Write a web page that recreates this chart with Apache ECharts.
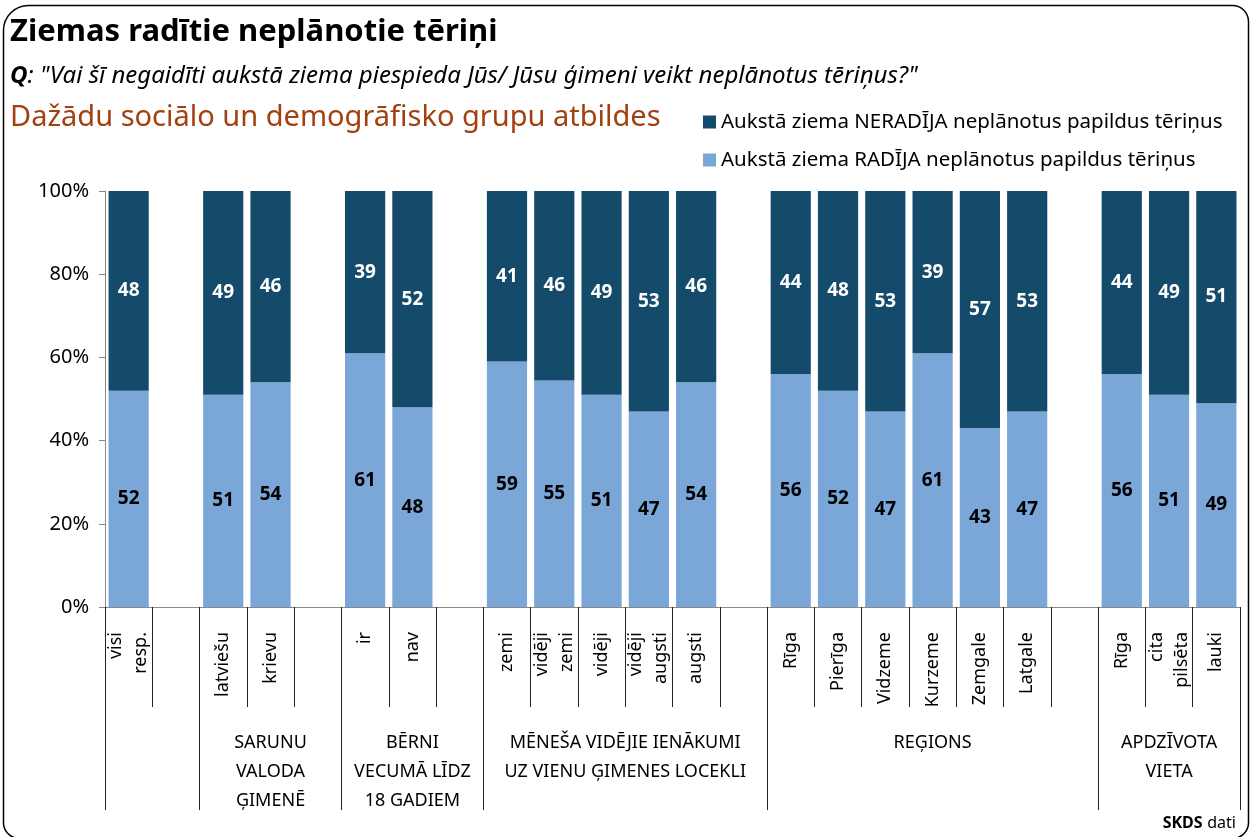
<!DOCTYPE html>
<html>
<head>
<meta charset="utf-8">
<style>
  html, body { margin: 0; padding: 0; background: #fff; }
  #main { width: 1250px; height: 837px; }
</style>
<script src="https://cdn.jsdelivr.net/npm/echarts@6/dist/echarts.min.js"></script>
</head>
<body>
<div id="main"></div>
<script>
// kategorijas (tukšās vietas = atstarpes starp grupām)
const categories = [
  'visi\nresp.', '',
  'latviešu', 'krievu', '',
  'ir', 'nav', '',
  'zemi', 'vidēji\nzemi', 'vidēji', 'vidēji\naugsti', 'augsti', '',
  'Rīga', 'Pierīga', 'Vidzeme', 'Kurzeme', 'Zemgale', 'Latgale', '',
  'Rīga', 'cita\npilsēta', 'lauki'
];
// Aukstā ziema RADĪJA neplānotus papildus tēriņus
const radija = [52, null, 51, 54, null, 61, 48, null, 59, 55, 51, 47, 54, null,
  56, 52, 47, 61, 43, 47, null, 56, 51, 49];
// Aukstā ziema NERADĪJA neplānotus papildus tēriņus
const neradija = [48, null, 49, 46, null, 39, 52, null, 41, 46, 49, 53, 46, null,
  44, 48, 53, 39, 57, 53, null, 44, 49, 51];
// grupas: sākuma indekss, garums, nosaukums
const groupStarts = [0, 2, 5, 8, 14, 21];
const groupSizes = [2, 3, 3, 6, 7, 3];
const groupNames = ['', 'SARUNU\nVALODA\nĢIMENĒ', 'BĒRNI\nVECUMĀ LĪDZ\n18 GADIEM',
  'MĒNEŠA VIDĒJIE IENĀKUMI\nUZ VIENU ĢIMENES LOCEKLI', 'REĢIONS', 'APDZĪVOTA\nVIETA'];
const yTicks = [0, 20, 40, 60, 80, 100];

const nameRad = 'Aukstā ziema RADĪJA neplānotus papildus tēriņus';
const nameNerad = 'Aukstā ziema NERADĪJA neplānotus papildus tēriņus';
const font = 'Noto Sans';

// 100% sakrautie stabiņi
const share = (arr, i) => arr[i] == null ? null : arr[i] / (radija[i] + neradija[i]) * 100;
const radData = radija.map((v, i) => ({ value: share(radija, i), raw: v }));
const neradData = neradija.map((v, i) => ({ value: share(neradija, i), raw: v }));

// grupu nosaukumu novietojums (centrs)
const groupLabelAt = {};
groupStarts.forEach((s, g) => {
  if (!groupNames[g]) return;
  const idx = s + Math.floor((groupSizes[g] - 1) / 2);
  groupLabelAt[idx] = { name: groupNames[g], shift: groupSizes[g] % 2 === 0 };
});

const chart = echarts.init(document.getElementById('main'));
const W = 1250, H = 837;
const grid = { left: 105, right: 10, top: 191, bottom: 230 };
const band = (W - grid.left - grid.right) / categories.length;

const option = {
  animation: false,
  textStyle: { fontFamily: font },
  title: [
    {
      text: 'Ziemas radītie neplānotie tēriņi',
      left: 10, top: 17, padding: 0,
      textStyle: { fontFamily: font, fontWeight: 'bold', fontSize: 31, color: '#000' }
    },
    {
      text: '{q|Q}{t|: "Vai šī negaidīti aukstā ziema piespieda Jūs/ Jūsu ģimeni veikt neplānotus tēriņus?"}',
      left: 10, top: 64, padding: 0,
      textStyle: {
        fontWeight: 'normal',
        rich: {
          q: { fontFamily: font, fontStyle: 'italic', fontWeight: 'bold', fontSize: 24, color: '#000' },
          t: { fontFamily: font, fontStyle: 'italic', fontWeight: 'normal', fontSize: 24, color: '#000' }
        }
      }
    },
    {
      text: 'Dažādu sociālo un demogrāfisko grupu atbildes',
      left: 10, top: 103, padding: 0,
      textStyle: { fontFamily: font, fontWeight: 'normal', fontSize: 29, color: '#a3400f' }
    },
    {
      text: '{b|SKDS} {n|dati}',
      right: 14, bottom: 5, padding: 0,
      textStyle: {
        rich: {
          b: { fontFamily: font, fontWeight: 'bold', fontSize: 16, color: '#000' },
          n: { fontFamily: font, fontWeight: 'normal', fontSize: 16, color: '#000' }
        }
      }
    }
  ],
  legend: {
    orient: 'vertical',
    left: 698, top: 106,
    itemWidth: 13, itemHeight: 13,
    itemGap: 16,
    icon: 'rect',
    data: [nameNerad, nameRad],
    textStyle: { fontFamily: font, fontSize: 20.5, color: '#000', lineHeight: 22 }
  },
  grid: grid,
  xAxis: [
    {
      type: 'category',
      data: categories,
      axisLine: { show: true, lineStyle: { color: '#888', width: 1 } },
      axisTick: { show: true, interval: 0, length: 100, lineStyle: { color: '#222', width: 1 } },
      axisLabel: {
        interval: 0, rotate: 90, margin: 25,
        fontFamily: font, fontSize: 18, color: '#000', lineHeight: 25
      }
    },
    {
      type: 'category',
      data: categories,
      position: 'bottom',
      axisLine: { show: false },
      axisTick: {
        show: true,
        interval: (i) => groupStarts.indexOf(i) >= 0,
        length: 203, lineStyle: { color: '#222', width: 1 }
      },
      axisLabel: {
        interval: (i) => groupLabelAt[i] !== undefined,
        margin: 121,
        formatter: (v, i) => {
          const g = groupLabelAt[i];
          if (!g) return '';
          const st = g.shift ? 's' : 'c';
          return g.name.split('\n').map(l => '{' + st + '|' + l + '}').join('\n');
        },
        rich: {
          c: { fontFamily: font, fontSize: 18, color: '#000', lineHeight: 29 },
          s: { fontFamily: font, fontSize: 18, color: '#000', lineHeight: 29, padding: [0, 0, 0, band] }
        }
      }
    }
  ],
  yAxis: {
    type: 'value',
    min: 0, max: 100, interval: 20,
    axisLine: { show: true, lineStyle: { color: '#888' } },
    axisTick: { show: true, length: 6, lineStyle: { color: '#888' } },
    splitLine: { show: false },
    axisLabel: {
      formatter: '{value}%', margin: 16,
      fontFamily: font, fontSize: 20, color: '#000'
    }
  },
  series: [
    {
      name: nameRad, type: 'bar', stack: 'all', data: radData,
      barWidth: '85%',
      itemStyle: { color: '#7aa6d8' },
      label: {
        show: true, position: 'inside',
        formatter: p => p.data.raw,
        fontFamily: font, fontWeight: 'bold', fontSize: 19, color: '#000'
      }
    },
    {
      name: nameNerad, type: 'bar', stack: 'all', data: neradData,
      barWidth: '85%',
      itemStyle: { color: '#154b6a' },
      label: {
        show: true, position: 'inside',
        formatter: p => p.data.raw,
        fontFamily: font, fontWeight: 'bold', fontSize: 19, color: '#fff'
      }
    }
  ],
  graphic: [
    {
      type: 'rect', silent: true, z: -1,
      shape: { x: 3.5, y: 5.5, width: 1245, height: 833, r: [25, 16, 16, 16] },
      style: { fill: 'none', stroke: '#000', lineWidth: 1.5 }
    }
  ]
};
chart.setOption(option);
</script>
</body>
</html>
